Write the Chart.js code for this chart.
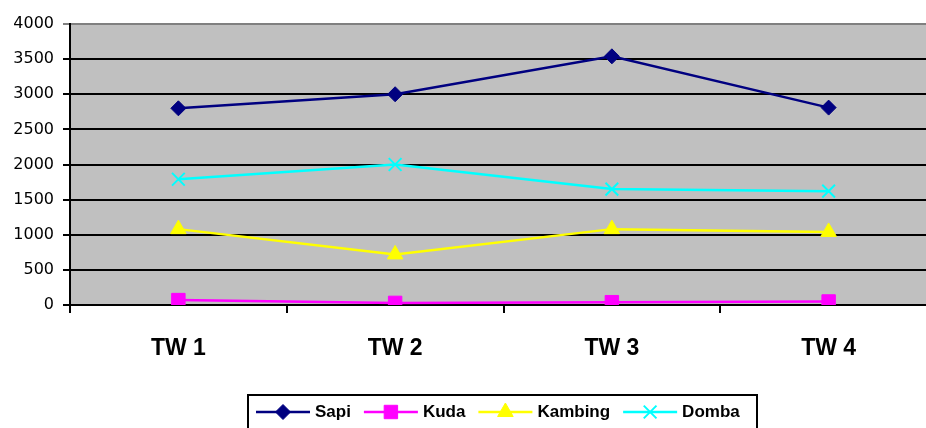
<!DOCTYPE html>
<html>
<head>
<meta charset="utf-8">
<script src="https://cdn.jsdelivr.net/npm/chart.js@4.4.1/dist/chart.umd.min.js"></script>
<style>
  html, body { margin: 0; padding: 0; background: #fff; overflow: hidden; }
  #wadah { width: 948px; height: 428px; }
</style>
</head>
<body>
<div id="wadah"><canvas id="grafik" width="948" height="428"></canvas></div>
<script>
// =========================
// DATA
// =========================

const kategori = ["TW 1", "TW 2", "TW 3", "TW 4"];

const sapi = [2800, 3000, 3540, 2810];
const kuda = [70, 30, 40, 50];
const kambing = [1080, 720, 1080, 1040];
const domba = [1790, 2000, 1650, 1620];

const sumbuY = { min: 0, max: 4000, step: 500 };


// =========================
// PLUGIN: latar area plot
// =========================

const latarPlot = {
    id: "latarPlot",
    beforeDraw(chart) {
        const { ctx, chartArea: a } = chart;
        ctx.save();
        ctx.fillStyle = "#C0C0C0";
        ctx.fillRect(a.left, a.top, a.right - a.left, a.bottom - a.top);
        ctx.restore();
    }
};


// =========================
// PLUGIN: legenda dengan garis + penanda
// =========================

const legendaBawah = {
    id: "legendaBawah",
    afterDraw(chart) {
        const ctx = chart.ctx;
        const boxX = 248, boxY = 395, boxW = 509, boxH = 40;
        const cy = 412;

        ctx.save();
        ctx.strokeStyle = "#000";
        ctx.lineWidth = 2;
        ctx.strokeRect(boxX, boxY, boxW, boxH);

        ctx.font = "bold 17px 'Liberation Sans', Arial, sans-serif";
        ctx.textBaseline = "middle";
        ctx.textAlign = "left";

        let x = 256;
        chart.data.datasets.forEach(ds => {
            ctx.strokeStyle = ds.borderColor;
            ctx.lineWidth = ds.borderWidth;
            ctx.beginPath();
            ctx.moveTo(x, cy);
            ctx.lineTo(x + 54, cy);
            ctx.stroke();

            ctx.fillStyle = ds.pointBackgroundColor;
            ctx.strokeStyle = ds.pointBorderColor;
            ctx.lineWidth = ds.pointBorderWidth;
            Chart.helpers.drawPoint(ctx, {
                pointStyle: ds.pointStyle,
                radius: ds.pointRadius,
                rotation: 0,
                borderWidth: ds.pointBorderWidth
            }, x + 27, cy);

            ctx.fillStyle = "#000";
            ctx.fillText(ds.label, x + 59, cy);
            x += 59 + ctx.measureText(ds.label).width + 13;
        });
        ctx.restore();
    }
};


// =========================
// GRAFIK
// =========================

function seri(label, data, warna, gaya, radius, lebarTitik) {
    return {
        label: label,
        data: data,
        borderColor: warna,
        backgroundColor: warna,
        borderWidth: 2.5,
        pointStyle: gaya,
        pointRadius: radius,
        pointHoverRadius: radius,
        pointBackgroundColor: warna,
        pointBorderColor: warna,
        pointBorderWidth: lebarTitik,
        tension: 0,
        fill: false
    };
}

new Chart(document.getElementById("grafik"), {

    type: "line",

    data: {
        labels: kategori,
        datasets: [
            seri("Sapi", sapi, "#000080", "rectRot", 7.5, 1),
            seri("Kuda", kuda, "#FF00FF", "rect", 9.5, 1),
            seri("Kambing", kambing, "#FFFF00", "triangle", 9, 1),
            seri("Domba", domba, "#00FFFF", "crossRot", 9, 2)
        ]
    },

    options: {

        responsive: false,
        animation: false,
        events: [],

        layout: {
            padding: { top: 24, right: 3, left: 0, bottom: 0 }
        },

        plugins: {
            legend: { display: false },
            tooltip: { enabled: false }
        },

        scales: {

            x: {
                offset: true,
                afterFit: s => {
                    s.height = 123;
                    s.paddingLeft = 0;
                    s.paddingRight = 0;
                },
                grid: {
                    offset: true,
                    drawOnChartArea: false,
                    drawTicks: true,
                    tickLength: 8,
                    color: "#000",
                    lineWidth: 2
                },
                border: { color: "#000", width: 2 },
                ticks: {
                    padding: 22,
                    color: "#000",
                    font: { family: "'Liberation Sans', Arial, sans-serif", size: 23, weight: "bold" }
                }
            },

            y: {
                min: sumbuY.min,
                max: sumbuY.max,
                afterFit: s => { s.width = 70; },
                ticks: {
                    stepSize: sumbuY.step,
                    padding: 9,
                    color: "#000",
                    callback: v => String(v),
                    font: { family: "'DejaVu Sans', Verdana, sans-serif", size: 16 }
                },
                grid: {
                    color: c => c.tick && c.tick.value === sumbuY.max ? "#808080" : "#000",
                    lineWidth: 2,
                    tickLength: 7
                },
                border: { color: "#000", width: 2 }
            }

        }

    },

    plugins: [latarPlot, legendaBawah]

});
</script>
</body>
</html>
